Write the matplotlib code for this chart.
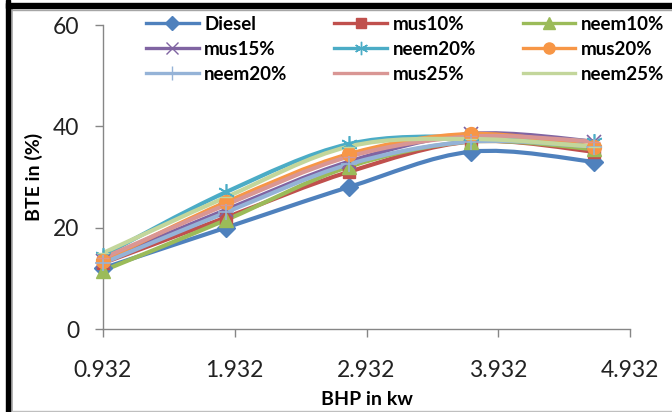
import numpy as np
import matplotlib
matplotlib.use('Agg')
import matplotlib.pyplot as plt
from matplotlib.path import Path
from matplotlib.patches import PathPatch, Rectangle
from matplotlib.lines import Line2D

plt.rcParams['font.family'] = ['Lato', 'DejaVu Sans']

# BHP values (kW) and BTE (%)
bhp = [0.932, 1.864, 2.796, 3.728, 4.66]
diesel = [12, 20, 28, 35, 33]
mus10 = [13, 22, 31, 37, 35]
neem10 = [11.5, 21.5, 32, 37, 35.5]
mus15 = [13.5, 23.5, 33, 38.5, 37]
neem20a = [14.5, 27, 36.5, 38, 37]
mus20 = [13.5, 25, 34.5, 38.5, 36]
neem20b = [13, 23, 32.5, 37, 36]
mus25 = [14, 24.5, 34, 38, 37]
neem25 = [15, 26, 36, 37.5, 36]

labels = ['Diesel', 'mus10%', 'neem10%', 'mus15%', 'neem20%', 'mus20%',
          'neem20%', 'mus25%', 'neem25%']
series = [diesel, mus10, neem10, mus15, neem20a, mus20, neem20b, mus25, neem25]
colors = ['#4F81BD', '#C0504D', '#9BBB59', '#8064A2', '#4BACC6', '#F79646',
          '#95B3D7', '#D99694', '#C3D69B']
markers = ['D', 's', '^', 'x', (6, 2, 0), 'o', '+', '_', '_']
msizes = [9, 9, 10, 10, 12, 10, 12, 9, 9]


def smooth_path(x, y):
    # Excel style smoothed line: cubic bezier segments through the points
    x = np.asarray(x, float)
    y = np.asarray(y, float)
    n = len(x)
    verts = [(x[0], y[0])]
    codes = [Path.MOVETO]
    for i in range(n - 1):
        x0, y0 = (x[i - 1], y[i - 1]) if i > 0 else (x[i], y[i])
        x3, y3 = (x[i + 2], y[i + 2]) if i + 2 < n else (x[i + 1], y[i + 1])
        c1 = (x[i] + (x[i + 1] - x0) / 6.0, y[i] + (y[i + 1] - y0) / 6.0)
        c2 = (x[i + 1] - (x3 - x[i]) / 6.0, y[i + 1] - (y3 - y[i]) / 6.0)
        verts += [c1, c2, (x[i + 1], y[i + 1])]
        codes += [Path.CURVE4] * 3
    return Path(verts, codes)


fig = plt.figure(figsize=(6.72, 4.12), dpi=100)
ax = fig.add_axes([103 / 672, (412 - 329) / 412, 527 / 672, 304 / 412])

handles = []
for vals, lab, col, mk, ms in zip(series, labels, colors, markers, msizes):
    ax.add_patch(PathPatch(smooth_path(bhp, vals), facecolor='none',
                           edgecolor=col, lw=3.0, zorder=2, clip_on=False))
    ax.plot(bhp, vals, ls='none', marker=mk, ms=ms, color=col, mec=col,
            mew=1.2 if mk in ('x', '+', (6, 2, 0)) else 1.0, zorder=3, clip_on=False)
    handles.append(Line2D([], [], color=col, lw=2.4, marker=mk, ms=ms * 0.8,
                          mec=col, mew=1.0))

ax.set_xlim(0.932, 4.932)
ax.set_ylim(0, 60)
ax.set_xticks([0.932, 1.932, 2.932, 3.932, 4.932])
ax.set_xticklabels(['0.932', '1.932', '2.932', '3.932', '4.932'])
ax.set_yticks([0, 20, 40, 60])
for s in ['top', 'right']:
    ax.spines[s].set_visible(False)
for s in ['left', 'bottom']:
    ax.spines[s].set_color('#868686')
    ax.spines[s].set_linewidth(1.0)
ax.tick_params(axis='both', colors='#868686', length=6, width=1.0,
               labelsize=16.5, labelcolor='#222222')
ax.tick_params(axis='y', pad=11)
ax.tick_params(axis='x', pad=16)

ax.set_xlabel('BHP in kw', fontsize=14, fontweight='bold')
ax.xaxis.set_label_coords(0.5, -0.205)
ax.set_ylabel('BTE in (%)', fontsize=14, fontweight='bold')
ax.yaxis.set_label_coords(-0.113, 0.5)

# legend is filled row by row in the original, matplotlib fills by column
order = [0, 3, 6, 1, 4, 7, 2, 5, 8]
fig.legend([handles[i] for i in order], [labels[i] for i in order],
           ncol=3, loc='upper left', bbox_to_anchor=(146 / 672, 1 - 16 / 412),
           frameon=False, prop={'weight': 'bold', 'size': 13.5},
           handlelength=2.8, handletextpad=0.3, columnspacing=2.5,
           labelspacing=0.42, borderpad=0, borderaxespad=0)

# frame of the original picture
fig.patches.append(Rectangle((6 / 672, 0), 3.5 / 672, 1, transform=fig.transFigure,
                             color='black', zorder=5))
fig.patches.append(Rectangle((6 / 672, 1 - 7.5 / 412), 1, 4.5 / 412,
                             transform=fig.transFigure, color='black', zorder=5))
fig.lines.append(Line2D([12 / 672, 12 / 672], [0, 1 - 9 / 412], transform=fig.transFigure,
                        color='#A6A6A6', lw=1.2))
fig.lines.append(Line2D([12 / 672, 1], [1 - 9.5 / 412, 1 - 9.5 / 412],
                        transform=fig.transFigure, color='#A6A6A6', lw=1.0))
fig.lines.append(Line2D([12 / 672, 1], [1.5 / 412, 1.5 / 412], transform=fig.transFigure,
                        color='#BFBFBF', lw=1.0))

fig.savefig('out.png', dpi=100)
